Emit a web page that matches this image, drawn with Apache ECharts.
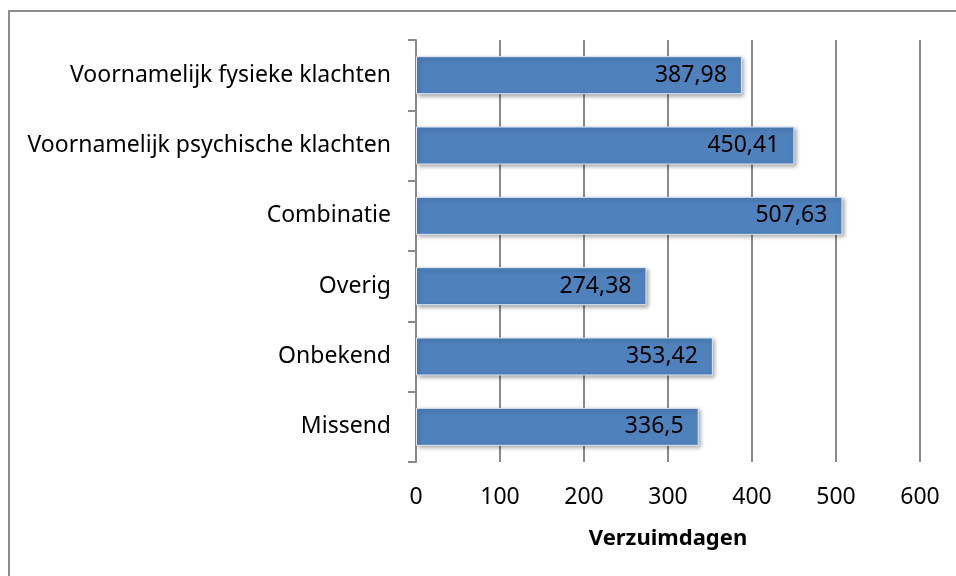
<!DOCTYPE html>
<html>
<head>
<meta charset="utf-8">
<script src="https://cdn.jsdelivr.net/npm/echarts@6/dist/echarts.min.js"></script>
<style>
  html, body { margin: 0; padding: 0; background: #fff; }
  .frame {
    position: absolute;
    left: 8px;
    top: 10px;
    width: 1000px;
    height: 700px;
    border: 2px solid #8c8c8c;
  }
  #chart { position: absolute; left: 0; top: 0; width: 956px; height: 576px; }
</style>
</head>
<body>
<div class="frame"></div>
<div id="chart"></div>
<script>
  var categories = [
    'Voornamelijk fysieke klachten',
    'Voornamelijk psychische klachten',
    'Combinatie',
    'Overig',
    'Onbekend',
    'Missend'
  ];
  var values = [387.98, 450.41, 507.63, 274.38, 353.42, 336.5];
  var xTicks = [0, 100, 200, 300, 400, 500, 600];

  var font = '"Noto Sans", "Open Sans", sans-serif';
  var chart = echarts.init(document.getElementById('chart'));

  var option = {
    animation: false,
    grid: {
      left: 416,
      right: 36,
      top: 40,
      bottom: 114
    },
    xAxis: {
      type: 'value',
      min: xTicks[0],
      max: xTicks[xTicks.length - 1],
      interval: 100,
      name: 'Verzuimdagen',
      nameLocation: 'middle',
      nameGap: 66,
      nameTextStyle: {
        fontFamily: font,
        fontSize: 22,
        fontWeight: 'bold',
        color: '#000'
      },
      axisLine: { show: false },
      axisTick: { show: false },
      axisLabel: {
        margin: 24,
        fontFamily: font,
        fontSize: 23,
        color: '#000'
      },
      splitLine: {
        show: true,
        lineStyle: { color: '#8a8a8a', width: 2 }
      }
    },
    yAxis: {
      type: 'category',
      inverse: true,
      data: categories,
      axisLine: {
        show: true,
        lineStyle: { color: '#8a8a8a', width: 2 }
      },
      axisTick: {
        show: true,
        length: 8,
        lineStyle: { color: '#8a8a8a', width: 2 }
      },
      axisLabel: {
        margin: 25,
        fontFamily: font,
        fontSize: 23,
        color: '#000'
      }
    },
    series: [{
      type: 'bar',
      data: values,
      barWidth: 38,
      itemStyle: {
        color: '#4f81bd',
        borderColor: '#dfe8f3',
        borderWidth: 1,
        shadowColor: 'rgba(0,0,0,0.35)',
        shadowBlur: 4,
        shadowOffsetX: 2,
        shadowOffsetY: 2
      },
      label: {
        show: true,
        position: 'insideRight',
        distance: 15,
        fontFamily: font,
        fontSize: 23,
        color: '#000',
        formatter: function (p) {
          return String(p.value).replace('.', ',');
        }
      }
    }]
  };

  chart.setOption(option);
</script>
</body>
</html>
